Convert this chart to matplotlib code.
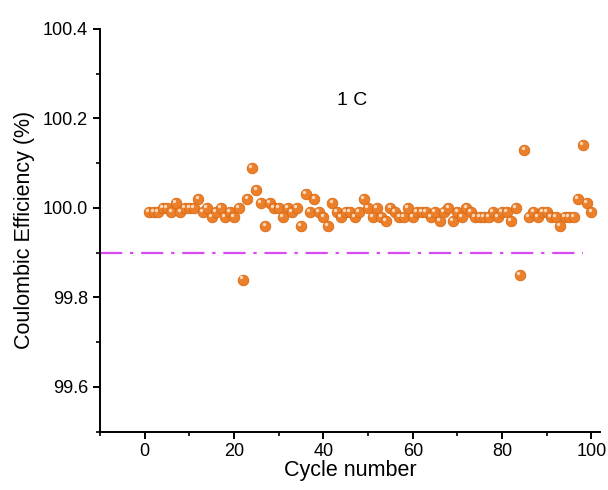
import matplotlib
matplotlib.use("Agg")
import matplotlib.pyplot as plt
from matplotlib.ticker import MultipleLocator
from matplotlib.transforms import offset_copy

plt.rcParams['font.family'] = ['Liberation Sans', 'DejaVu Sans']

# Coulombic efficiency per cycle
cycles = list(range(1, 101))
efficiency = [
    99.99, 99.99, 99.99, 100.00, 100.00, 99.99, 100.01, 99.99, 100.00, 100.00,
    100.00, 100.02, 99.99, 100.00, 99.98, 99.99, 100.00, 99.98, 99.99, 99.98,
    100.00, 99.84, 100.02, 100.09, 100.04, 100.01, 99.96, 100.01, 100.00, 100.00,
    99.98, 100.00, 99.99, 100.00, 99.96, 100.03, 99.99, 100.02, 99.99, 99.98,
    99.96, 100.01, 99.99, 99.98, 99.99, 99.99, 99.98, 99.99, 100.02, 100.00,
    99.98, 100.00, 99.98, 99.97, 100.00, 99.99, 99.98, 99.98, 100.00, 99.98,
    99.99, 99.99, 99.99, 99.98, 99.99, 99.97, 99.99, 100.00, 99.97, 99.99,
    99.98, 100.00, 99.99, 99.98, 99.98, 99.98, 99.98, 99.99, 99.98, 99.99,
    99.99, 99.97, 100.00, 99.85, 100.13, 99.98, 99.99, 99.98, 99.99, 99.99,
    99.98, 99.98, 99.96, 99.98, 99.98, 99.98, 100.02, 100.14, 100.01, 99.99,
]
ref_level = 99.9
ref_span = [-10, 98]

fig = plt.figure(figsize=(6.08, 4.90), dpi=100)
ax = fig.add_axes([0.1645, 0.119, 0.823, 0.822])

# ball markers: orange body + small light highlight
ax.scatter(cycles, efficiency, s=58, color='#EC7F2A', edgecolors='#D96A14',
           linewidths=0.6, zorder=3)
hl = offset_copy(ax.transData, fig=fig, x=-1.3, y=1.5, units='points')
ax.scatter(cycles, efficiency, s=6, color='#FBD9BC', linewidths=0,
           transform=hl, zorder=4)

ax.plot(ref_span, [ref_level, ref_level], color='#D94BF2', lw=1.6,
        linestyle=(0, (10, 3.5, 1.5, 3.5)), zorder=2)

ax.text(46.5, 100.24, '1 C', fontsize=14, ha='center', va='center')

ax.set_xlim(-10, 102)
ax.set_ylim(99.5, 100.4)
ax.xaxis.set_major_locator(MultipleLocator(20))
ax.xaxis.set_minor_locator(MultipleLocator(10))
ax.yaxis.set_major_locator(MultipleLocator(0.2))
ax.yaxis.set_minor_locator(MultipleLocator(0.1))
ax.set_yticks([99.6, 99.8, 100.0, 100.2, 100.4])
ax.set_yticklabels(['99.6', '99.8', '100.0', '100.2', '100.4'])

for s in ['top', 'right']:
    ax.spines[s].set_visible(False)
for s in ['left', 'bottom']:
    ax.spines[s].set_linewidth(1.4)
ax.tick_params(which='major', direction='out', length=5, width=1.4, labelsize=13)
ax.tick_params(which='minor', direction='out', length=3, width=1.2)

ax.set_xlabel('Cycle number', fontsize=15.5, labelpad=0)
ax.set_ylabel('Coulombic Efficiency (%)', fontsize=15.5, labelpad=6)

plt.savefig('out.png', dpi=100)
